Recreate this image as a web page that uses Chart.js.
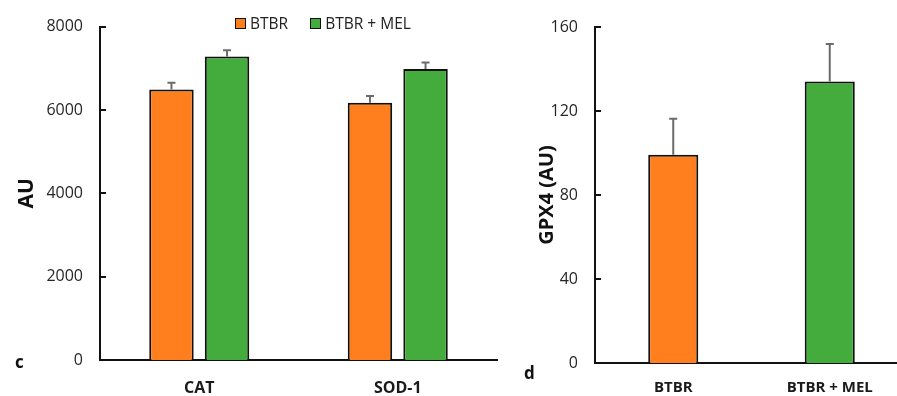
<!DOCTYPE html>
<html lang="en">
<head>
<meta charset="UTF-8">
<title>CAT / SOD-1 / GPX4</title>
<script src="https://cdn.jsdelivr.net/npm/chart.js"></script>
<style>
    body { margin: 0; padding: 0; width: 897px; height: 396px; overflow: hidden; position: relative; background: #fff; font-family: "Open Sans", sans-serif; }
    canvas { position: absolute; top: 0; }
    #leftChart { left: 0; }
    #rightChart { left: 520px; }
    .panel { position: absolute; font-weight: bold; font-size: 17px; color: #111; }
    .legend { position: absolute; top: 12px; left: 235px; font-size: 15.5px; color: #222; display: flex; align-items: center; }
    .legend span.box { display: inline-block; width: 9px; height: 9px; border: 1.5px solid #111; margin-right: 4px; }
</style>
</head>
<body>
<canvas id="leftChart" width="510" height="396"></canvas>
<canvas id="rightChart" width="388" height="396"></canvas>
<div class="legend">
    <span class="box" style="background:#FF7F1E"></span><span>BTBR</span>
    <span class="box" style="background:#44AC3C; margin-left:22px"></span><span>BTBR + MEL</span>
</div>
<div class="panel" style="left:15px; top:350px;">c</div>
<div class="panel" style="left:524px; top:361px;">d</div>

<script>
// panel c
const catLabels = ['CAT', 'SOD-1'];
const btbrMeans = [6490, 6170];
const btbrErr = [160, 165];
const melMeans = [7280, 6980];
const melErr = [155, 160];

// panel d
const gpxLabels = ['BTBR', 'BTBR + MEL'];
const gpxMeans = [99.2, 134.1];
const gpxErr = [17.1, 17.8];

const ORANGE = '#FF7F1E';
const GREEN = '#44AC3C';

// error bars (plus side only)
const errorBars = {
    id: 'errorBars',
    afterDatasetsDraw(chart) {
        const ctx = chart.ctx;
        const y = chart.scales.y;
        ctx.save();
        ctx.strokeStyle = '#6b6b6b';
        ctx.lineWidth = 2;
        chart.data.datasets.forEach((ds, i) => {
            const meta = chart.getDatasetMeta(i);
            meta.data.forEach((bar, j) => {
                const top = y.getPixelForValue(ds.data[j] + ds.errors[j]);
                ctx.beginPath();
                ctx.moveTo(bar.x, bar.y);
                ctx.lineTo(bar.x, top);
                ctx.moveTo(bar.x - 4, top);
                ctx.lineTo(bar.x + 4, top);
                ctx.stroke();
            });
        });
        ctx.restore();
    }
};

// y tick marks pointing into the plot
const insideTicks = {
    id: 'insideTicks',
    afterDraw(chart) {
        const ctx = chart.ctx;
        const y = chart.scales.y;
        const x0 = chart.chartArea.left;
        ctx.save();
        ctx.strokeStyle = '#111';
        ctx.lineWidth = 2;
        y.getTicks().forEach(t => {
            const py = Math.round(y.getPixelForValue(t.value));
            ctx.beginPath();
            ctx.moveTo(x0 - 1, py);
            ctx.lineTo(x0 + 6, py);
            ctx.stroke();
        });
        ctx.restore();
    }
};

function baseScales(yMax, step, yWidth, xHeight, titleText, titleSize, titlePad, catFont, catPad) {
    return {
        x: {
            grid: { display: false },
            border: { display: true, color: '#111', width: 2 },
            ticks: { color: '#1a1a1a', font: { family: 'Open Sans', weight: 'bold', size: catFont }, padding: catPad },
            afterFit: s => { s.height = xHeight; }
        },
        y: {
            min: 0,
            max: yMax,
            ticks: {
                stepSize: step, color: '#262626', font: { family: 'Open Sans', size: 16 }, padding: 17,
                callback: v => String(v)
            },
            grid: { display: false, drawTicks: false },
            border: { display: true, color: '#111', width: 2 },
            title: { display: true, text: titleText, color: '#111', font: { family: 'Open Sans', weight: 'bold', size: titleSize }, padding: { top: titlePad, bottom: 0 } },
            afterFit: s => { s.width = yWidth; }
        }
    };
}

new Chart(document.getElementById('leftChart'), {
    type: 'bar',
    data: {
        labels: catLabels,
        datasets: [
            { label: 'BTBR', data: btbrMeans, errors: btbrErr, backgroundColor: ORANGE, borderColor: '#111', borderWidth: 2, borderSkipped: 'bottom' },
            { label: 'BTBR + MEL', data: melMeans, errors: melErr, backgroundColor: GREEN, borderColor: '#111', borderWidth: 2, borderSkipped: 'bottom' }
        ]
    },
    options: {
        responsive: false,
        animation: false,
        categoryPercentage: 0.56,
        barPercentage: 0.8,
        layout: { padding: { top: 22, right: 13, left: 0, bottom: 0 } },
        plugins: { legend: { display: false }, tooltip: { enabled: false } },
        scales: baseScales(8000, 2000, 100, 36, 'AU', 21, 14, 16, 11)
    },
    plugins: [errorBars, insideTicks]
});

new Chart(document.getElementById('rightChart'), {
    type: 'bar',
    data: {
        labels: gpxLabels,
        datasets: [
            { label: 'GPX4', data: gpxMeans, errors: gpxErr, backgroundColor: [ORANGE, GREEN], borderColor: '#111', borderWidth: 2, borderSkipped: 'bottom' }
        ]
    },
    options: {
        responsive: false,
        animation: false,
        categoryPercentage: 1,
        barPercentage: 0.32,
        layout: { padding: { top: 27, right: 0, left: 0, bottom: 0 } },
        plugins: { legend: { display: false }, tooltip: { enabled: false } },
        scales: baseScales(160, 40, 75, 33, 'GPX4 (AU)', 20, 15, 15, 8)
    },
    plugins: [errorBars, insideTicks]
});
</script>
</body>
</html>
